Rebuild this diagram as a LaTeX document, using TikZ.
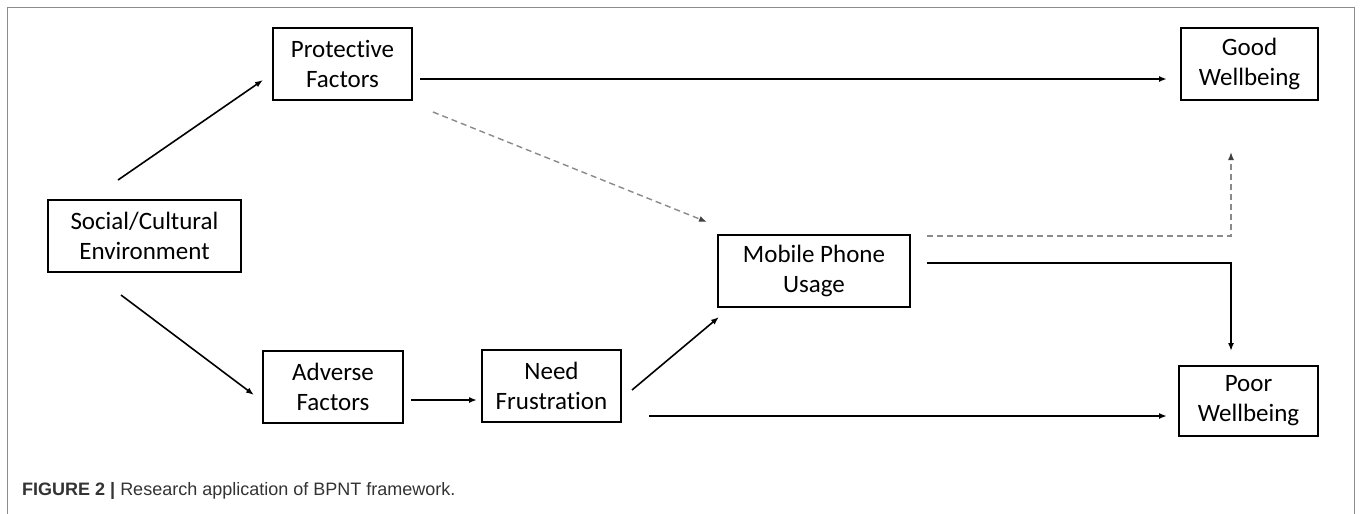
\documentclass[tikz,border=0pt]{standalone}
\usepackage{fontspec}
\setmainfont{Carlito}[Ligatures=NoCommon]
\newfontfamily\capfont{Liberation Sans}
\usetikzlibrary{arrows.meta}
\definecolor{framegray}{HTML}{8C8C8C}
\definecolor{dashgray}{HTML}{8A8A8A}
\definecolor{capgray}{HTML}{333333}
\begin{document}
\begin{tikzpicture}[x=1pt,y=-1pt,
  fbox/.style={draw=black, line width=2pt, minimum height=72pt, align=center,
    inner sep=0pt, font=\fontsize{25}{30}\selectfont},
  conn/.style={line width=1.6pt, -{Latex[length=8pt,width=6pt]}},
  dconn/.style={line width=1.4pt, draw=dashgray, dash pattern=on 6pt off 4pt,
    -{Latex[length=8pt,width=6pt,color=black!75]}}]
\useasboundingbox (0,0) rectangle (1360,514);
\fill[white] (0,0) rectangle (1360,514);
% outer frame
\draw[framegray, line width=1pt] (7,514) -- (7,7) -- (1354,7) -- (1354,514);

% boxes
\node[fbox, minimum width=193pt] (soc)  at (144.5,236) {Social/Cultural\\Environment};
\node[fbox, minimum width=139pt] (prot) at (342.5,64)  {Protective\\Factors};
\node[fbox, minimum width=137pt] (good) at (1249.5,64) {Good\\Wellbeing};
\node[fbox, minimum width=140pt] (adv)  at (333,386.5) {Adverse\\Factors};
\node[fbox, minimum width=139pt] (need) at (551.5,386) {Need\\Frustration};
\node[fbox, minimum width=192pt] (mob)  at (814,271)   {Mobile Phone\\Usage};
\node[fbox, minimum width=139pt, minimum height=70pt] (poor) at (1248.5,401) {Poor\\Wellbeing};

% connector end points
\coordinate (sp1) at (118,180);  \coordinate (sp2) at (263,80);
\coordinate (sa1) at (121,295);  \coordinate (sa2) at (254,395);
\coordinate (pg1) at (420,79);   \coordinate (pg2) at (1167,79);
\coordinate (pm1) at (433,112);  \coordinate (pm2) at (707,222);
\coordinate (an1) at (411,400);  \coordinate (an2) at (477,400);
\coordinate (nm1) at (632,390);  \coordinate (nm2) at (719,317);
\coordinate (np1) at (649,416);  \coordinate (np2) at (1167,416);
\coordinate (mg1) at (927,236);  \coordinate (mg2) at (1231,152);
\coordinate (mp1) at (927,263);  \coordinate (mp2) at (1231,351);

\draw[conn] (sp1) -- (sp2);
\draw[conn] (sa1) -- (sa2);
\draw[conn] (pg1) -- (pg2);
\draw[dconn] (pm1) -- (pm2);
\draw[conn] (an1) -- (an2);
\draw[conn] (nm1) -- (nm2);
\draw[conn] (np1) -- (np2);
\draw[dconn] (mg1) -| (mg2);
\draw[conn] (mp1) -| (mp2);

% caption
\node[anchor=west, inner sep=0pt, font=\capfont\fontsize{18}{22}\selectfont, text=capgray] (cap) at (22,491)
  {\textbf{FIGURE 2 |} Research application of BPNT framework.};
\end{tikzpicture}
\end{document}
